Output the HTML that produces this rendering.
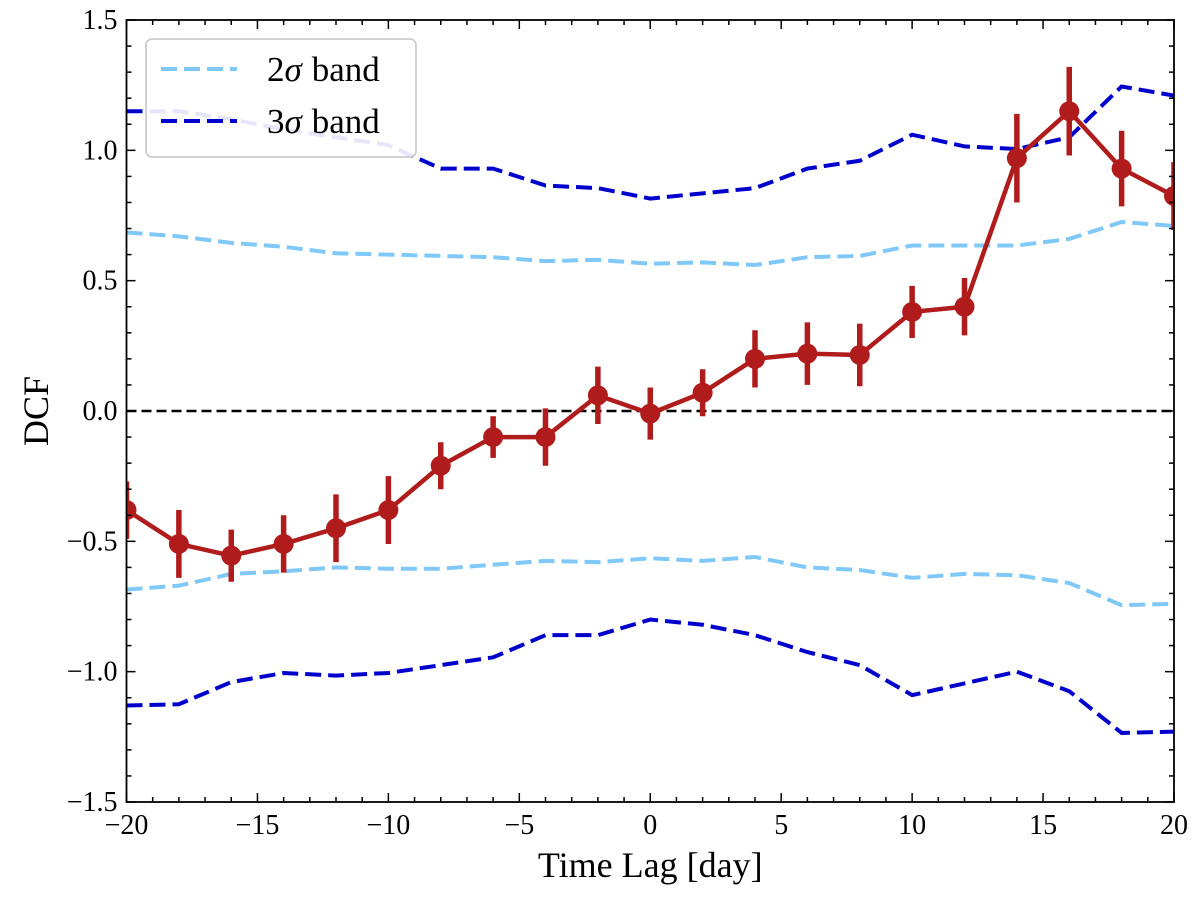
<!DOCTYPE html>
<html><head><meta charset="utf-8"><style>
html,body{margin:0;padding:0;background:#fff;}
svg{display:block;font-family:"Liberation Serif","DejaVu Serif",serif;}
</style></head><body>
<svg id="chart" width="1200" height="899" viewBox="0 0 1200 899" xmlns="http://www.w3.org/2000/svg"></svg>
<script>
const lags = [-20,-18,-16,-14,-12,-10,-8,-6,-4,-2,0,2,4,6,8,10,12,14,16,18,20];
const dcf = [-0.38,-0.51,-0.555,-0.51,-0.45,-0.38,-0.21,-0.10,-0.10,0.06,-0.01,0.07,0.20,0.22,0.215,0.38,0.40,0.97,1.15,0.93,0.825];
const dcfErr = [0.11,0.13,0.10,0.11,0.13,0.13,0.09,0.08,0.11,0.11,0.10,0.09,0.11,0.12,0.12,0.10,0.11,0.17,0.17,0.145,0.13];
const up3 = [1.15,1.15,1.12,1.08,1.05,1.02,0.93,0.93,0.865,0.855,0.815,0.835,0.855,0.93,0.96,1.06,1.015,1.005,1.05,1.245,1.21];
const up2 = [0.685,0.67,0.645,0.63,0.605,0.60,0.595,0.59,0.575,0.58,0.565,0.57,0.56,0.59,0.595,0.635,0.635,0.635,0.66,0.725,0.71];
const lo2 = [-0.685,-0.67,-0.625,-0.615,-0.60,-0.605,-0.605,-0.59,-0.575,-0.58,-0.565,-0.575,-0.56,-0.60,-0.61,-0.64,-0.625,-0.63,-0.66,-0.745,-0.74];
const lo3 = [-1.13,-1.125,-1.04,-1.005,-1.015,-1.005,-0.975,-0.945,-0.86,-0.86,-0.80,-0.82,-0.86,-0.925,-0.975,-1.09,-1.045,-1.0,-1.075,-1.235,-1.23];
const xTicks = [-20,-15,-10,-5,0,5,10,15,20];
const yTicks = [-1.5,-1.0,-0.5,0.0,0.5,1.0,1.5];

const L=126.5,R=1174,T=20,B=802;
const X=v=>L+(v+20)/40*(R-L);
const Y=v=>B-(v+1.5)/3*(B-T);
const svg=document.getElementById('chart');
const NS='http://www.w3.org/2000/svg';
function mk(tag,attrs,parent){const e=document.createElementNS(NS,tag);for(const k in attrs)e.setAttribute(k,attrs[k]);(parent||svg).appendChild(e);return e;}
function fmt(v){const s=Math.abs(v).toFixed(1);return (v<0?'\u2212':'')+s;}

const z=mk('line',{x1:L,x2:R,y1:Y(0),y2:Y(0),stroke:'#000','stroke-width':2.4,'stroke-dasharray':'10,5'});



function band(arr,color,name){
  const p=mk('polyline',{points:arr.map((v,i)=>X(lags[i])+','+Y(v)).join(' '),fill:'none',stroke:color,'stroke-width':4,'stroke-dasharray':'16,7'});
  
  
}
band(up2,'#7fc8f8','band-2sigma-upper');
band(lo2,'#7fc8f8','band-2sigma-lower');
band(up3,'#0000cc','band-3sigma-upper');
band(lo3,'#0000cc','band-3sigma-lower');

const g=mk('g',{});


const ln=mk('polyline',{points:dcf.map((v,i)=>X(lags[i])+','+Y(v)).join(' '),fill:'none',stroke:'#b01c1c','stroke-width':4.5},g);


dcf.forEach((v,i)=>{
  const e=mk('line',{x1:X(lags[i]),x2:X(lags[i]),y1:Y(v-dcfErr[i]),y2:Y(v+dcfErr[i]),stroke:'#b01c1c','stroke-width':5.5},g);
  
  
  const c=mk('circle',{cx:X(lags[i]),cy:Y(v),r:10,fill:'#b01c1c'},g);
  
  
});

mk('path',{d:`M0,0H1200V899H0Z M${L},${T}V${B}H${R}V${T}Z`,fill:'#fff','fill-rule':'evenodd'});

const fr=mk('rect',{x:L,y:T,width:R-L,height:B-T,fill:'none',stroke:'#000','stroke-width':1.8});



for(let d=-20;d<=20;d+=1){
  const major=d%5===0, len=major?9:5;
  mk('line',{x1:X(d),x2:X(d),y1:B,y2:B-len,stroke:'#000','stroke-width':1.5});
  mk('line',{x1:X(d),x2:X(d),y1:T,y2:T+len,stroke:'#000','stroke-width':1.5});
}
for(let k=-15;k<=15;k++){
  const v=k/10, major=k%5===0, len=major?9:5;
  mk('line',{x1:L,x2:L+len,y1:Y(v),y2:Y(v),stroke:'#000','stroke-width':1.5});
  mk('line',{x1:R,x2:R-len,y1:Y(v),y2:Y(v),stroke:'#000','stroke-width':1.5});
}
xTicks.forEach(t=>{
  const tx=mk('text',{x:X(t),y:B+32,'text-anchor':'middle','font-size':28});
  tx.textContent=t<0?'\u2212'+Math.abs(t):String(t);
  
  
});
yTicks.forEach(t=>{
  const tx=mk('text',{x:L-9,y:Y(t)+9,'text-anchor':'end','font-size':28});
  tx.textContent=fmt(t);
  
  
});
const xt=mk('text',{x:(L+R)/2,y:877,'text-anchor':'middle','font-size':36});
xt.textContent='Time Lag [day]';


const yt=mk('text',{x:0,y:0,'text-anchor':'middle','font-size':36,transform:`translate(48,${(T+B)/2}) rotate(-90)`});
yt.textContent='DCF';



const lg=mk('g',{});


mk('rect',{x:146,y:39,width:270,height:118,rx:6,fill:'#fff','fill-opacity':0.9,stroke:'#ccc','stroke-width':1.8},lg);
[['#7fc8f8','2','legend-entry-2sigma',69],['#0000cc','3','legend-entry-3sigma',121]].forEach(([c,n,name,y])=>{
  const e=mk('g',{},lg);
  
  
  mk('line',{x1:161,x2:237,y1:y,y2:y,stroke:c,'stroke-width':4,'stroke-dasharray':'16,7'},e);
  const t=mk('text',{x:267,y:y+12,'font-size':35},e);
  t.innerHTML=n+'<tspan font-style="italic">σ</tspan><tspan dx="10">band</tspan>';
});
</script>
</body></html>
